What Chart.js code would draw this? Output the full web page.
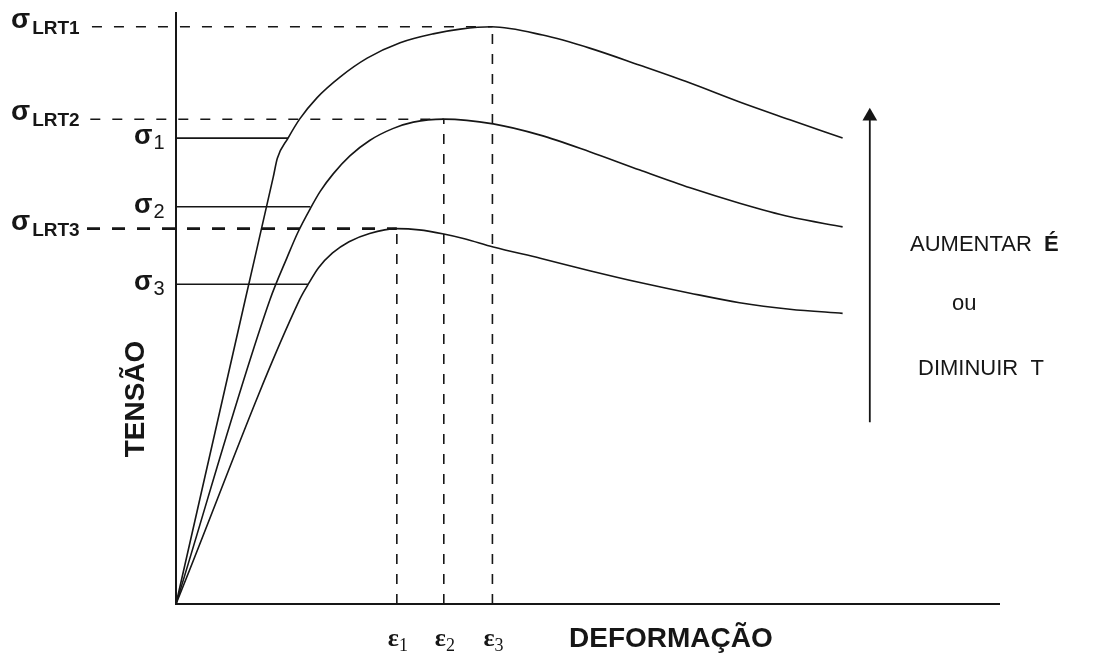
<!DOCTYPE html>
<html><head><meta charset="utf-8">
<script src="https://cdn.jsdelivr.net/npm/chart.js@4.4.1/dist/chart.umd.min.js"></script>
<style>html,body{margin:0;padding:0;background:#fff;}canvas{display:block;}</style>
</head><body>
<canvas id="c" width="1113" height="654"></canvas>
<script>
// ---- data (strain in arbitrary %, stress in arbitrary %) ----
const curve1Strain = [0, 8.4, 11.8, 12.3, 13.6, 15.0, 17.1, 19.9, 23.2, 27.2, 31.2, 34.5, 38.3, 44.5, 50.2, 56.3, 62.4, 68.4, 74.5, 80.9];
const curve1Stress = [0, 51.4, 72.1, 75.3, 78.7, 81.9, 85.5, 89.0, 92.2, 94.8, 96.3, 97.1, 97.5, 96.1, 93.9, 91.0, 88.0, 84.8, 81.8, 78.7];
const curve2Strain = [0, 11.4, 13.5, 14.8, 16.3, 17.5, 19.1, 21.1, 23.5, 26.3, 28.8, 32.5, 38.5, 44.2, 50.2, 56.3, 62.4, 68.4, 74.5, 80.9];
const curve2Stress = [0, 51.4, 58.6, 62.8, 66.8, 69.7, 72.7, 75.7, 78.3, 80.3, 81.4, 81.9, 81.1, 79.2, 76.4, 73.3, 70.3, 67.7, 65.4, 63.7];
const curve3Strain = [0, 15.0, 16.0, 17.3, 19.0, 21.0, 23.5, 26.8, 29.5, 32.5, 35.0, 38.5, 44.2, 50.2, 56.3, 62.4, 68.4, 74.5, 80.9];
const curve3Stress = [0, 51.4, 53.9, 56.8, 59.3, 61.2, 62.6, 63.4, 63.2, 62.5, 61.7, 60.3, 58.4, 56.3, 54.3, 52.5, 50.9, 49.8, 49.1];
const sigmaLRT = [97.5, 81.9, 63.4];          // peak stresses σLRT1..3
const sigmaLRTNames = ['LRT1', 'LRT2', 'LRT3'];
const sigmaN = [78.7, 67.1, 54.0];             // σ1..σ3
const sigmaNNames = ['1', '2', '3'];
const sigmaNEndStrain = [13.6, 16.3, 16.0];    // where σn line meets its curve
const epsPeak = [26.8, 32.5, 38.4];            // ε1..ε3
const epsNames = ['1', '2', '3'];
const epsLevel = [63.4, 81.9, 97.5];           // stress level each ε line reaches
const xTitle = 'DEFORMAÇÃO';
const yTitle = 'TENSÃO';
const noteLines = ['AUMENTAR', 'É', 'ou', 'DIMINUIR  T'];

// ---- build datasets ----
const INK = '#161616';
const pts = (xs, ys) => xs.map((v, i) => ({x: v, y: ys[i]}));
const base = {showLine: true, pointRadius: 0, borderColor: INK, clip: false, fill: false};
const datasets = [];
datasets.push({...base, data: [{x:0,y:100},{x:0,y:0},{x:100,y:0}], borderWidth: 2});
[[curve1Strain, curve1Stress],[curve2Strain, curve2Stress],[curve3Strain, curve3Stress]].forEach(([xs, ys]) => {
  datasets.push({...base, data: pts(xs, ys), borderWidth: 1.6, cubicInterpolationMode: 'monotone'});
});
sigmaN.forEach((s, i) => datasets.push({...base, data: [{x:0,y:s},{x:sigmaNEndStrain[i],y:s}], borderWidth: 1.6}));
const dashStart = [-10.2, -10.4, -10.8];
sigmaLRT.forEach((s, i) => datasets.push({...base, data: [{x:dashStart[i],y:s},{x:epsPeak[2 - i],y:s}],
  borderWidth: i === 2 ? 2.6 : 1.5, borderDash: i === 2 ? [13, 12] : [10, 12]}));
epsPeak.forEach((e, i) => datasets.push({...base, data: [{x:e,y:0},{x:e,y:epsLevel[i]}], borderWidth: 1.6, borderDash: [10, 10]}));
// arrow
datasets.push({...base, data: [{x:84.2,y:30.7},{x:84.2,y:82.4}], borderWidth: 1.8,
  pointRadius: [0, 8.5], pointStyle: 'triangle', pointBackgroundColor: INK, pointBorderColor: INK, pointBorderWidth: 0});

const SANS = '"Liberation Sans", Arial, sans-serif';
const SERIF = '"Liberation Serif", "Times New Roman", serif';
const textPlugin = {
  id: 'texts',
  afterDatasetsDraw(chart) {
    const {ctx, scales: {x, y}} = chart;
    const x0 = x.getPixelForValue(0);
    ctx.save();
    ctx.fillStyle = INK;
    ctx.textAlign = 'left';
    ctx.textBaseline = 'alphabetic';
    sigmaLRT.forEach((s, i) => {
      const py = y.getPixelForValue(s);
      ctx.font = 'bold 28px ' + SANS;
      ctx.fillText('σ', x0 - 165, py + 1);
      const w = ctx.measureText('σ').width;
      ctx.font = 'bold 19px ' + SANS;
      ctx.fillText(sigmaLRTNames[i], x0 - 165 + w + 2, py + 7);
    });
    sigmaN.forEach((s, i) => {
      const py = y.getPixelForValue(s);
      ctx.font = 'bold 27px ' + SANS;
      ctx.fillText('σ', x0 - 42, py + 6);
      const w = ctx.measureText('σ').width;
      ctx.font = '20px ' + SANS;
      ctx.fillText(sigmaNNames[i], x0 - 42 + w + 1, py + 11);
    });
    epsPeak.forEach((e, i) => {
      const px = x.getPixelForValue(e);
      ctx.font = 'bold 26px ' + SERIF;
      ctx.fillText('ε', px - 9, 646);
      const w = ctx.measureText('ε').width;
      ctx.font = '18px ' + SERIF;
      ctx.fillText(epsNames[i], px - 9 + w, 651);
    });
    ctx.font = 'bold 28px ' + SANS;
    ctx.fillText(xTitle, x0 + 393, 647);
    ctx.save();
    ctx.translate(x0 - 32, 399);
    ctx.rotate(-Math.PI / 2);
    ctx.textAlign = 'center';
    ctx.fillText(yTitle, 0, 0);
    ctx.restore();
    ctx.font = '22px ' + SANS;
    ctx.fillText(noteLines[0], 910, 251);
    const wa = ctx.measureText(noteLines[0] + '  ').width;
    ctx.font = 'bold 22px ' + SANS;
    ctx.fillText(noteLines[1], 910 + wa, 251);
    ctx.font = '22px ' + SANS;
    ctx.fillText(noteLines[2], 952, 310);
    ctx.fillText(noteLines[3], 918, 375);
    ctx.restore();
  }
};

new Chart(document.getElementById('c'), {
  type: 'scatter',
  data: {datasets},
  options: {
    responsive: false,
    animation: false,
    devicePixelRatio: 1,
    layout: {padding: {left: 85.36, right: 113, top: 12, bottom: 50}},
    plugins: {legend: {display: false}, tooltip: {enabled: false}},
    elements: {line: {tension: 0}},
    scales: {
      x: {type: 'linear', min: -11, max: 100, display: false},
      y: {type: 'linear', min: 0, max: 100, display: false}
    }
  },
  plugins: [textPlugin]
});
</script>
</body></html>
